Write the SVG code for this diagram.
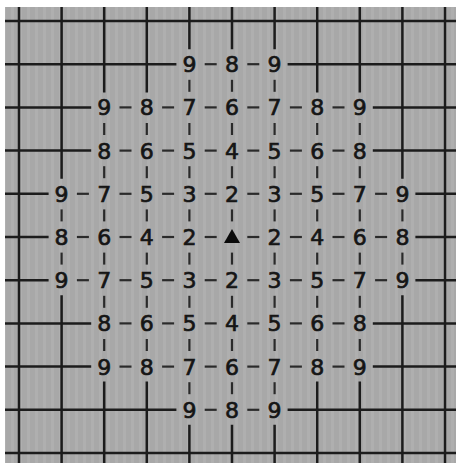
<svg xmlns="http://www.w3.org/2000/svg" xmlns:xlink="http://www.w3.org/1999/xlink" width="456" height="463" viewBox="0 0 456 463">
<style>
.g{stroke:#1c1c1c;stroke-width:2.5;fill:none}
.d{stroke:#2a2a2a;stroke-width:2.2}
text{font-family:"DejaVu Sans","Liberation Sans",sans-serif;font-size:22px;fill:#151515;stroke:#151515;stroke-width:0.7;text-anchor:middle}
</style>
<defs>
<pattern id="str" width="8" height="10" patternUnits="userSpaceOnUse">
<rect width="8" height="10" fill="#a8a8a8"/>
<rect x="3" width="3" height="10" fill="#afafaf"/>
</pattern>
<line id="hd" class="d" x1="-6" y1="0" x2="6" y2="0"/>
<line id="vd" class="d" x1="0" y1="-6" x2="0" y2="6"/>
</defs>
<rect width="456" height="463" fill="#ffffff"/>
<rect x="5" y="7" width="451" height="456" fill="url(#str)"/>
<g id="grid" class="g">
<path d="M5 21H456M5 453H456M5 64.2H176.4M287.6 64.2H456M5 409.8H176.4M287.6 409.8H456M5 107.4H91.2M372.8 107.4H456M5 150.6H91.2M372.8 150.6H456M5 323.4H91.2M372.8 323.4H456M5 366.6H91.2M372.8 366.6H456M5 193.8H48.6M415.4 193.8H456M5 237H48.6M415.4 237H456M5 280.2H48.6M415.4 280.2H456"/>
<path d="M19 7V463M445 7V463M61.6 7V178.8M61.6 295.2V463M402.4 7V178.8M402.4 295.2V463M104.2 7V92.4M104.2 381.6V463M146.8 7V92.4M146.8 381.6V463M317.2 7V92.4M317.2 381.6V463M359.8 7V92.4M359.8 381.6V463M189.4 7V49.2M189.4 424.8V463M232 7V49.2M232 424.8V463M274.6 7V49.2M274.6 424.8V463"/>
</g>
<g id="connectors">
<use href="#hd" x="210.7" y="64.2"/><use href="#hd" x="253.3" y="64.2"/>
<use href="#hd" x="210.7" y="409.8"/><use href="#hd" x="253.3" y="409.8"/>
<use href="#hd" x="125.5" y="107.4"/><use href="#hd" x="168.1" y="107.4"/><use href="#hd" x="210.7" y="107.4"/><use href="#hd" x="253.3" y="107.4"/><use href="#hd" x="295.9" y="107.4"/><use href="#hd" x="338.5" y="107.4"/>
<use href="#hd" x="125.5" y="150.6"/><use href="#hd" x="168.1" y="150.6"/><use href="#hd" x="210.7" y="150.6"/><use href="#hd" x="253.3" y="150.6"/><use href="#hd" x="295.9" y="150.6"/><use href="#hd" x="338.5" y="150.6"/>
<use href="#hd" x="125.5" y="323.4"/><use href="#hd" x="168.1" y="323.4"/><use href="#hd" x="210.7" y="323.4"/><use href="#hd" x="253.3" y="323.4"/><use href="#hd" x="295.9" y="323.4"/><use href="#hd" x="338.5" y="323.4"/>
<use href="#hd" x="125.5" y="366.6"/><use href="#hd" x="168.1" y="366.6"/><use href="#hd" x="210.7" y="366.6"/><use href="#hd" x="253.3" y="366.6"/><use href="#hd" x="295.9" y="366.6"/><use href="#hd" x="338.5" y="366.6"/>
<use href="#hd" x="82.9" y="193.8"/><use href="#hd" x="125.5" y="193.8"/><use href="#hd" x="168.1" y="193.8"/><use href="#hd" x="210.7" y="193.8"/><use href="#hd" x="253.3" y="193.8"/><use href="#hd" x="295.9" y="193.8"/><use href="#hd" x="338.5" y="193.8"/><use href="#hd" x="381.1" y="193.8"/>
<use href="#hd" x="82.9" y="237"/><use href="#hd" x="125.5" y="237"/><use href="#hd" x="168.1" y="237"/><use href="#hd" x="210.7" y="237"/><use href="#hd" x="253.3" y="237"/><use href="#hd" x="295.9" y="237"/><use href="#hd" x="338.5" y="237"/><use href="#hd" x="381.1" y="237"/>
<use href="#hd" x="82.9" y="280.2"/><use href="#hd" x="125.5" y="280.2"/><use href="#hd" x="168.1" y="280.2"/><use href="#hd" x="210.7" y="280.2"/><use href="#hd" x="253.3" y="280.2"/><use href="#hd" x="295.9" y="280.2"/><use href="#hd" x="338.5" y="280.2"/><use href="#hd" x="381.1" y="280.2"/>
<use href="#vd" x="61.6" y="215.4"/><use href="#vd" x="61.6" y="258.6"/>
<use href="#vd" x="402.4" y="215.4"/><use href="#vd" x="402.4" y="258.6"/>
<use href="#vd" x="104.2" y="129"/><use href="#vd" x="104.2" y="172.2"/><use href="#vd" x="104.2" y="215.4"/><use href="#vd" x="104.2" y="258.6"/><use href="#vd" x="104.2" y="301.8"/><use href="#vd" x="104.2" y="345"/>
<use href="#vd" x="146.8" y="129"/><use href="#vd" x="146.8" y="172.2"/><use href="#vd" x="146.8" y="215.4"/><use href="#vd" x="146.8" y="258.6"/><use href="#vd" x="146.8" y="301.8"/><use href="#vd" x="146.8" y="345"/>
<use href="#vd" x="317.2" y="129"/><use href="#vd" x="317.2" y="172.2"/><use href="#vd" x="317.2" y="215.4"/><use href="#vd" x="317.2" y="258.6"/><use href="#vd" x="317.2" y="301.8"/><use href="#vd" x="317.2" y="345"/>
<use href="#vd" x="359.8" y="129"/><use href="#vd" x="359.8" y="172.2"/><use href="#vd" x="359.8" y="215.4"/><use href="#vd" x="359.8" y="258.6"/><use href="#vd" x="359.8" y="301.8"/><use href="#vd" x="359.8" y="345"/>
<use href="#vd" x="189.4" y="85.8"/><use href="#vd" x="189.4" y="129"/><use href="#vd" x="189.4" y="172.2"/><use href="#vd" x="189.4" y="215.4"/><use href="#vd" x="189.4" y="258.6"/><use href="#vd" x="189.4" y="301.8"/><use href="#vd" x="189.4" y="345"/><use href="#vd" x="189.4" y="388.2"/>
<use href="#vd" x="232" y="85.8"/><use href="#vd" x="232" y="129"/><use href="#vd" x="232" y="172.2"/><use href="#vd" x="232" y="215.4"/><use href="#vd" x="232" y="258.6"/><use href="#vd" x="232" y="301.8"/><use href="#vd" x="232" y="345"/><use href="#vd" x="232" y="388.2"/>
<use href="#vd" x="274.6" y="85.8"/><use href="#vd" x="274.6" y="129"/><use href="#vd" x="274.6" y="172.2"/><use href="#vd" x="274.6" y="215.4"/><use href="#vd" x="274.6" y="258.6"/><use href="#vd" x="274.6" y="301.8"/><use href="#vd" x="274.6" y="345"/><use href="#vd" x="274.6" y="388.2"/>
</g>
<g id="r1">
<g id="n1-4"><text x="189.4" y="72.2">9</text></g><g id="n1-5"><text x="232" y="72.2">8</text></g><g id="n1-6"><text x="274.6" y="72.2">9</text></g>
</g>
<g id="r2">
<g id="n2-2"><text x="104.2" y="115.4">9</text></g><g id="n2-3"><text x="146.8" y="115.4">8</text></g><g id="n2-4"><text x="189.4" y="115.4">7</text></g><g id="n2-5"><text x="232" y="115.4">6</text></g><g id="n2-6"><text x="274.6" y="115.4">7</text></g><g id="n2-7"><text x="317.2" y="115.4">8</text></g><g id="n2-8"><text x="359.8" y="115.4">9</text></g>
</g>
<g id="r3">
<g id="n3-2"><text x="104.2" y="158.6">8</text></g><g id="n3-3"><text x="146.8" y="158.6">6</text></g><g id="n3-4"><text x="189.4" y="158.6">5</text></g><g id="n3-5"><text x="232" y="158.6">4</text></g><g id="n3-6"><text x="274.6" y="158.6">5</text></g><g id="n3-7"><text x="317.2" y="158.6">6</text></g><g id="n3-8"><text x="359.8" y="158.6">8</text></g>
</g>
<g id="r4">
<g id="n4-1"><text x="61.6" y="201.8">9</text></g><g id="n4-2"><text x="104.2" y="201.8">7</text></g><g id="n4-3"><text x="146.8" y="201.8">5</text></g><g id="n4-4"><text x="189.4" y="201.8">3</text></g><g id="n4-5"><text x="232" y="201.8">2</text></g><g id="n4-6"><text x="274.6" y="201.8">3</text></g><g id="n4-7"><text x="317.2" y="201.8">5</text></g><g id="n4-8"><text x="359.8" y="201.8">7</text></g><g id="n4-9"><text x="402.4" y="201.8">9</text></g>
</g>
<g id="r5">
<g id="n5-1"><text x="61.6" y="245">8</text></g><g id="n5-2"><text x="104.2" y="245">6</text></g><g id="n5-3"><text x="146.8" y="245">4</text></g><g id="n5-4"><text x="189.4" y="245">2</text></g><g id="center"><polygon points="232,229 240,243 224,243" fill="#0a0a0a"/></g><g id="n5-6"><text x="274.6" y="245">2</text></g><g id="n5-7"><text x="317.2" y="245">4</text></g><g id="n5-8"><text x="359.8" y="245">6</text></g><g id="n5-9"><text x="402.4" y="245">8</text></g>
</g>
<g id="r6">
<g id="n6-1"><text x="61.6" y="288.2">9</text></g><g id="n6-2"><text x="104.2" y="288.2">7</text></g><g id="n6-3"><text x="146.8" y="288.2">5</text></g><g id="n6-4"><text x="189.4" y="288.2">3</text></g><g id="n6-5"><text x="232" y="288.2">2</text></g><g id="n6-6"><text x="274.6" y="288.2">3</text></g><g id="n6-7"><text x="317.2" y="288.2">5</text></g><g id="n6-8"><text x="359.8" y="288.2">7</text></g><g id="n6-9"><text x="402.4" y="288.2">9</text></g>
</g>
<g id="r7">
<g id="n7-2"><text x="104.2" y="331.4">8</text></g><g id="n7-3"><text x="146.8" y="331.4">6</text></g><g id="n7-4"><text x="189.4" y="331.4">5</text></g><g id="n7-5"><text x="232" y="331.4">4</text></g><g id="n7-6"><text x="274.6" y="331.4">5</text></g><g id="n7-7"><text x="317.2" y="331.4">6</text></g><g id="n7-8"><text x="359.8" y="331.4">8</text></g>
</g>
<g id="r8">
<g id="n8-2"><text x="104.2" y="374.6">9</text></g><g id="n8-3"><text x="146.8" y="374.6">8</text></g><g id="n8-4"><text x="189.4" y="374.6">7</text></g><g id="n8-5"><text x="232" y="374.6">6</text></g><g id="n8-6"><text x="274.6" y="374.6">7</text></g><g id="n8-7"><text x="317.2" y="374.6">8</text></g><g id="n8-8"><text x="359.8" y="374.6">9</text></g>
</g>
<g id="r9">
<g id="n9-4"><text x="189.4" y="417.8">9</text></g><g id="n9-5"><text x="232" y="417.8">8</text></g><g id="n9-6"><text x="274.6" y="417.8">9</text></g>
</g>
</svg>
